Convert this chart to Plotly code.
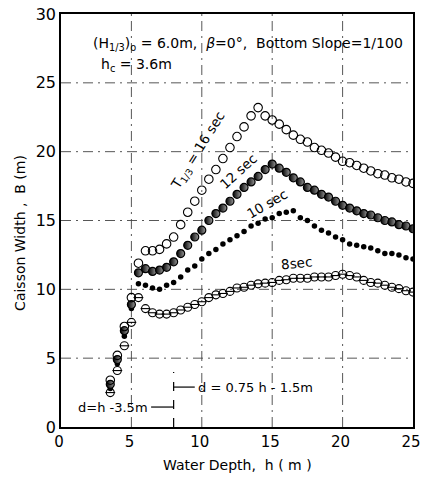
import plotly.graph_objects as go

h_steep = [3.5, 4.0, 4.5, 5.0]
b16_steep = [3.4, 5.2, 7.3, 9.4]
b12_steep = [3.1, 4.9, 7.0, 8.9]
b10_steep = [2.8, 4.6, 6.6, 8.6]
b8_steep = [2.5, 4.1, 5.9, 7.6]

h = [5.5, 6.0, 6.5, 7.0, 7.5, 8.0, 8.5, 9.0, 9.5, 10.0, 10.5, 11.0, 11.5, 12.0,
     12.5, 13.0, 13.5, 14.0, 14.5, 15.0, 15.5, 16.0, 16.5, 17.0, 17.5, 18.0,
     18.5, 19.0, 19.5, 20.0, 20.5, 21.0, 21.5, 22.0, 22.5, 23.0, 23.5, 24.0,
     24.5, 25.0]
b16 = [11.9, 12.8, 12.8, 12.9, 13.3, 13.8, 14.7, 15.6, 16.4, 17.2, 18.0, 18.7,
       19.5, 20.3, 21.1, 21.8, 22.6, 23.2, 22.6, 22.3, 22.0, 21.6, 21.2, 20.9,
       20.7, 20.3, 20.1, 19.9, 19.6, 19.3, 19.2, 19.0, 18.8, 18.6, 18.4, 18.3,
       18.1, 18.0, 17.8, 17.7]
b12 = [11.2, 11.5, 11.3, 11.4, 11.6, 12.0, 12.6, 13.2, 13.8, 14.3, 15.0, 15.5,
       15.9, 16.4, 16.9, 17.4, 17.8, 18.2, 18.7, 19.1, 18.8, 18.5, 18.1, 17.8,
       17.4, 17.2, 16.9, 16.7, 16.4, 16.1, 15.9, 15.7, 15.5, 15.4, 15.2, 15.0,
       14.9, 14.7, 14.6, 14.4]
b10 = [10.4, 10.3, 10.1, 10.0, 10.3, 10.5, 10.9, 11.4, 11.7, 12.2, 12.6, 12.9,
       13.3, 13.6, 13.9, 14.2, 14.6, 14.8, 15.1, 15.2, 15.5, 15.6, 15.7, 15.2,
       15.0, 14.6, 14.3, 14.1, 13.8, 13.6, 13.3, 13.2, 13.1, 13.0, 12.8, 12.6,
       12.6, 12.5, 12.3, 12.2]
b8 = [9.4, 8.6, 8.3, 8.2, 8.2, 8.3, 8.5, 8.7, 8.9, 9.1, 9.4, 9.6, 9.7, 9.85,
      10.1, 10.15, 10.3, 10.4, 10.45, 10.5, 10.65, 10.7, 10.8, 10.8, 10.8, 10.9,
      10.9, 10.9, 11.0, 11.1, 11.0, 10.9, 10.65, 10.5, 10.45, 10.3, 10.15, 10.05,
      9.9, 9.8]

x_ticks = [0, 5, 10, 15, 20, 25]
y_ticks = [0, 5, 10, 15, 20, 25, 30]

FONT = "DejaVu Sans"
BLACK = "black"

x_all = h_steep + h
y16 = b16_steep + b16
y12 = b12_steep + b12
y10 = b10_steep + b10
y8 = b8_steep + b8

fig = go.Figure()

GRID_DASH = "10px,5px,2px,5px"
for xv in x_ticks[1:-1]:
    fig.add_shape(type="line", x0=xv, x1=xv, y0=0, y1=30, xref="x", yref="y",
                  line=dict(color="#444", width=0.9, dash=GRID_DASH), layer="below")
for yv in y_ticks[1:-1]:
    fig.add_shape(type="line", x0=0, x1=25, y0=yv, y1=yv, xref="x", yref="y",
                  line=dict(color="#444", width=0.9, dash=GRID_DASH), layer="below")

# 8 sec: circle with horizontal bar
fig.add_trace(go.Scatter(x=x_all, y=y8, mode="markers",
                         marker=dict(symbol="circle-open", size=8, color=BLACK,
                                     line=dict(width=1.1))))
fig.add_trace(go.Scatter(x=x_all, y=y8, mode="markers",
                         marker=dict(symbol="line-ew-open", size=7, color=BLACK,
                                     line=dict(width=1.1))))
# 10 sec: small filled dot
fig.add_trace(go.Scatter(x=x_all, y=y10, mode="markers",
                         marker=dict(symbol="circle", size=5.5, color=BLACK)))
# 12 sec: half-filled circle
fig.add_trace(go.Scatter(x=x_all, y=y12, mode="markers",
                         marker=dict(symbol="circle", size=8, color=BLACK,
                                     gradient=dict(type="horizontal", color="#999999"),
                                     line=dict(width=1.2, color=BLACK))))
# 16 sec: open circle
fig.add_trace(go.Scatter(x=x_all, y=y16, mode="markers",
                         marker=dict(symbol="circle-open", size=8.5, color=BLACK,
                                     line=dict(width=1.1))))

# d boundary marker at h = 8 m and arrows
fig.add_shape(type="line", x0=8, x1=8, y0=0, y1=4.0, xref="x", yref="y",
              line=dict(color=BLACK, width=1.2, dash="dash"))
fig.add_shape(type="line", x0=6.4, x1=8, y0=1.45, y1=1.45, xref="x", yref="y",
              line=dict(color=BLACK, width=1.2))
fig.add_shape(type="line", x0=8, x1=9.5, y0=2.9, y1=2.9, xref="x", yref="y",
              line=dict(color=BLACK, width=1.2))

TF = dict(size=13, family=FONT, color=BLACK)
fig.add_annotation(x=6.3, y=1.45, text="d=h -3.5m", showarrow=False,
                   xanchor="right", font=TF)
fig.add_annotation(x=9.6, y=2.9, text="d = 0.75 h - 1.5m", showarrow=False,
                   xanchor="left", font=TF)

fig.add_annotation(x=2.1, y=27.8,
                   text="(H<sub>1/3</sub>)<sub>o</sub> = 6.0m,  <i>β</i>=0°,  Bottom Slope=1/100",
                   showarrow=False, xanchor="left", font=dict(size=14, family=FONT, color=BLACK))
fig.add_annotation(x=2.7, y=26.3, text="h<sub>c</sub> = 3.6m", showarrow=False,
                   xanchor="left", font=dict(size=14, family=FONT, color=BLACK))

LF = dict(size=13.5, family=FONT, color=BLACK)
fig.add_annotation(x=9.8, y=20.1, text="T<sub>1/3</sub> = 16 sec", textangle=-58,
                   showarrow=False, font=LF)
fig.add_annotation(x=12.6, y=18.6, text="12 sec", textangle=-42,
                   showarrow=False, font=LF)
fig.add_annotation(x=14.6, y=16.2, text="10 sec", textangle=-30,
                   showarrow=False, font=LF)
fig.add_annotation(x=16.7, y=11.9, text="8sec", textangle=-6,
                   showarrow=False, font=LF)

# axis titles as annotations for precise placement
fig.add_annotation(x=12.5, y=0, yanchor="top", yshift=-28,
                   text="Water Depth,  h ( m )", showarrow=False,
                   font=dict(size=14, family=FONT, color=BLACK))
fig.add_annotation(x=0, y=14.1, xanchor="right", xshift=-31, textangle=-90,
                   text="Caisson Width ,  B (m)", showarrow=False,
                   font=dict(size=14, family=FONT, color=BLACK))

fig.update_xaxes(range=[0, 25], tickvals=x_ticks, ticktext=[str(v) for v in x_ticks],
                 showgrid=False, zeroline=False, showline=True, linecolor=BLACK,
                 linewidth=1.5, mirror=True, ticks="", automargin=False,
                 ticklabeloverflow="allow", ticklabelshift=-2,
                 tickfont=dict(size=15, family=FONT, color=BLACK))
fig.update_yaxes(range=[0, 30], tickvals=y_ticks, ticktext=[str(v) for v in y_ticks],
                 showgrid=False, zeroline=False, showline=True, linecolor=BLACK,
                 linewidth=1.5, mirror=True, ticks="", automargin=False,
                 ticklabeloverflow="allow",
                 tickfont=dict(size=16, family=FONT, color=BLACK))

fig.update_layout(width=421, height=478, showlegend=False,
                  plot_bgcolor="white", paper_bgcolor="white",
                  margin=dict(l=61, r=8, t=14, b=51, autoexpand=False),
                  font=dict(family=FONT, color=BLACK))

# remove the default page margin so the figure fills the window exactly
fig.write_html("out.html", config={"displayModeBar": False},
               post_script="document.body.style.margin='0';document.body.style.overflow='hidden';")
